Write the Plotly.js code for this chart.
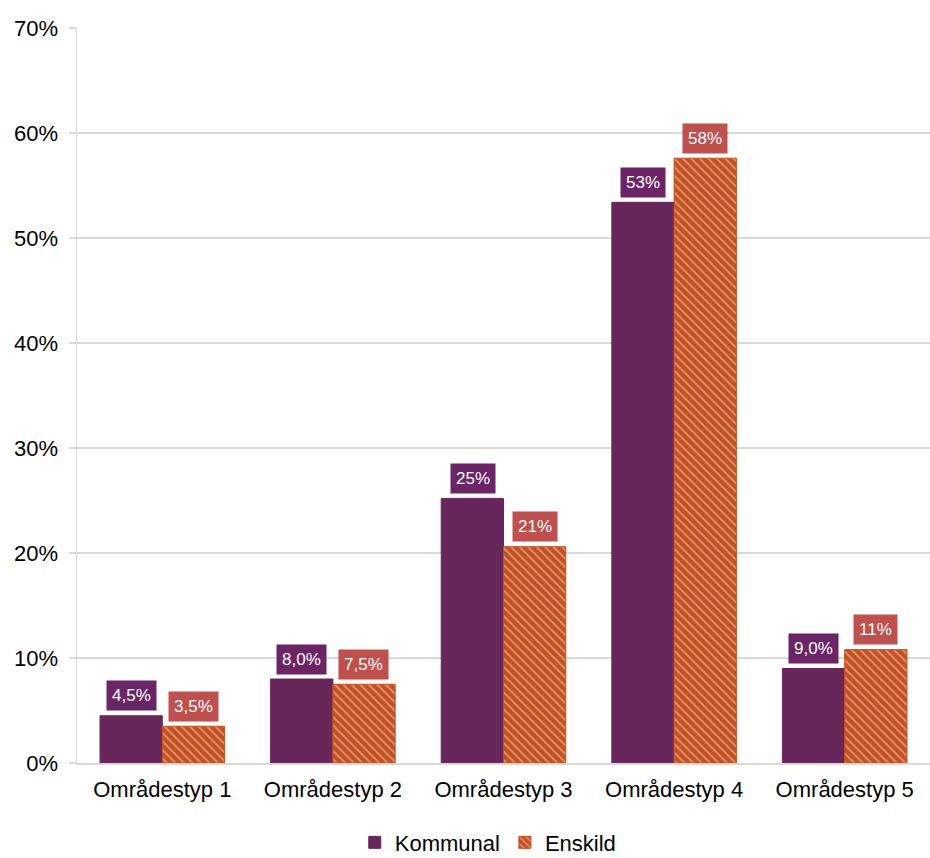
<!DOCTYPE html>
<html><head><meta charset="utf-8">
<script src="https://cdn.plot.ly/plotly-3.0.1.min.js"></script>
<style>body{margin:0;background:#fff}#chart{width:930px;height:858px}</style>
</head><body><div id="chart"></div>
<script>
var categories = ["Områdestyp 1","Områdestyp 2","Områdestyp 3","Områdestyp 4","Områdestyp 5"];
var kommunal = [4.5, 8.0, 25.2, 53.4, 9.0];
var enskild = [3.5, 7.5, 20.6, 57.6, 10.8];
var kommunalLabels = ["4,5%","8,0%","25%","53%","9,0%"];
var enskildLabels = ["3,5%","7,5%","21%","58%","11%"];
var yTicks = [0,10,20,30,40,50,60,70];
var yTickText = ["0%","10%","20%","30%","40%","50%","60%","70%"];

var traces = [
  {type:'bar', name:'Kommunal', x:categories, y:kommunal,
   marker:{color:'#68275A', line:{color:'#68275A', width:1}}, hoverinfo:'skip'},
  {type:'bar', name:'Enskild', x:categories, y:enskild,
   marker:{color:'#C4501F', line:{color:'#C4501F', width:1},
     pattern:{shape:'\\', fgcolor:'#F3D0B8', bgcolor:'#C4501F', size:6, solidity:0.35, fillmode:'overlay'}},
   hoverinfo:'skip'}
];

var annotations = [];
categories.forEach(function(c,i){
  annotations.push({x:c, y:kommunal[i], xref:'x', yref:'y', text:kommunalLabels[i],
    showarrow:false, xshift:-31, yshift:20, bgcolor:'#6B2466', borderpad:5,
    font:{family:'Liberation Sans, Arial, sans-serif', size:17, color:'#fff'}});
  annotations.push({x:c, y:enskild[i], xref:'x', yref:'y', text:enskildLabels[i],
    showarrow:false, xshift:31, yshift:20, bgcolor:'#C0504D', borderpad:5,
    font:{family:'Liberation Sans, Arial, sans-serif', size:17, color:'#fff'}});
});

var layout = {
  width:930, height:858,
  margin:{l:77, r:0, t:28, b:95},
  paper_bgcolor:'#fff', plot_bgcolor:'#fff',
  font:{family:'Liberation Sans, Arial, sans-serif', size:22, color:'#000'},
  barmode:'group', bargap:0.27, bargroupgap:0,
  xaxis:{showgrid:false, showline:true, linecolor:'#D9D9D9', linewidth:1.5,
    ticks:'', tickfont:{size:22}, ticklabelstandoff:6, automargin:false, fixedrange:true},
  yaxis:{range:[0,70], tickvals:yTicks, ticktext:yTickText, showgrid:true,
    gridcolor:'#D9D9D9', gridwidth:1.5, showline:true, linecolor:'#D9D9D9', linewidth:1.5,
    ticks:'outside', ticklen:7, tickcolor:'#D9D9D9', tickwidth:1.5, ticklabelstandoff:6,
    zeroline:false, tickfont:{size:22}, automargin:false, fixedrange:true},
  showlegend:true,
  legend:{orientation:'h', xref:'container', x:0.525, xanchor:'center', yref:'container', y:0.018, yanchor:'middle',
    font:{size:22}, itemwidth:30, traceorder:'normal'},
  annotations:annotations
};
Plotly.newPlot('chart', traces, layout, {displayModeBar:false, staticPlot:true});
</script></body></html>
